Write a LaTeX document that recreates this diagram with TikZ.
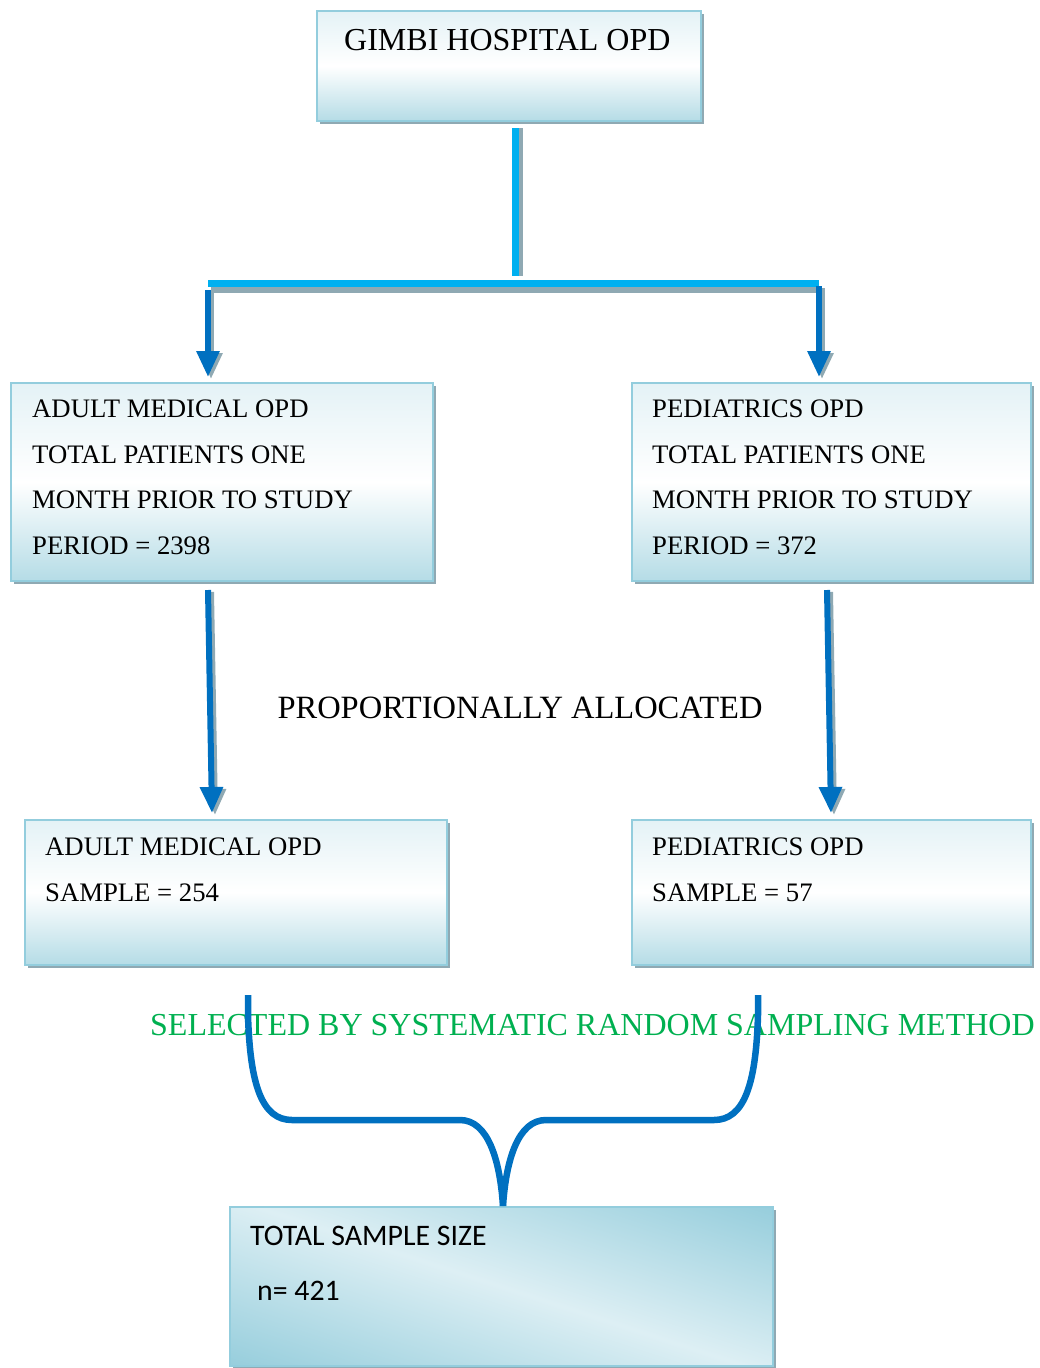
\documentclass[tikz,border=0pt]{standalone}
\usepackage{fontspec}
\setmainfont{Liberation Serif}
\newfontfamily\calib{Carlito}
\usetikzlibrary{arrows.meta,shadows}
\definecolor{bordc}{HTML}{93CDDD}
\definecolor{shadc}{HTML}{8FA9B3}
\definecolor{topc}{HTML}{E4F2F6}
\definecolor{botc}{HTML}{B5DCE6}
\definecolor{lblue}{HTML}{00B0F0}
\definecolor{dblue}{HTML}{0070C0}
\definecolor{grn}{HTML}{00B050}
\definecolor{darkc}{HTML}{93CCDB}
\definecolor{lightc}{HTML}{DDEFF4}
\pgfdeclareverticalshading{myband}{100bp}{color(0bp)=(darkc); color(36bp)=(darkc); color(50bp)=(lightc); color(64bp)=(darkc); color(100bp)=(darkc)}
\begin{document}
\begin{tikzpicture}[x=1pt,y=-1pt,
  box/.style={draw=bordc, line width=2pt, top color=topc, bottom color=botc, middle color=white,
    anchor=north west, inner sep=0pt,
    drop shadow={shadow xshift=3pt, shadow yshift=-3pt, fill=shadc, opacity=1}},
  boxtxt/.style={anchor=base west, inner sep=0pt, font=\fontsize{26.7}{30}\selectfont},
  bigtxt/.style={inner sep=0pt, font=\fontsize{32}{36}\selectfont},
  lconn/.style={draw=lblue, line width=7pt},
  lshad/.style={draw=shadc, line width=7pt},
  darr/.style={draw=dblue, line width=6pt, -{Triangle[width=22pt,length=26pt]}},
  dshad/.style={draw=shadc, line width=6pt, -{Triangle[width=22pt,length=26pt]}},
  brace/.style={draw=dblue, line width=6.5pt}
]
\useasboundingbox (0,0) rectangle (1040,1368);

% boxes
\node[box, minimum width=384pt, minimum height=110pt] (top) at (316,10) {};
\node[bigtxt, anchor=base west] (toptxt) at (344,50) {GIMBI HOSPITAL OPD};

\node[box, minimum width=422pt, minimum height=198pt] (adult) at (10,382) {};
\node[boxtxt] (a1) at (32,417) {ADULT MEDICAL OPD};
\node[boxtxt] (a2) at (32,463) {TOTAL PATIENTS ONE};
\node[boxtxt] (a3) at (32,508) {MONTH PRIOR TO STUDY};
\node[boxtxt] (a4) at (32,554) {PERIOD = 2398};

\node[box, minimum width=399pt, minimum height=198pt] (ped) at (631,382) {};
\node[boxtxt] (p1) at (652,417) {PEDIATRICS OPD};
\node[boxtxt] (p2) at (652,463) {TOTAL PATIENTS ONE};
\node[boxtxt] (p3) at (652,508) {MONTH PRIOR TO STUDY};
\node[boxtxt] (p4) at (652,554) {PERIOD = 372};

\node[box, minimum width=422pt, minimum height=145pt] (adults) at (24,819) {};
\node[boxtxt] (as1) at (45,855) {ADULT MEDICAL OPD};
\node[boxtxt] (as2) at (45,901) {SAMPLE = 254};

\node[box, minimum width=399pt, minimum height=145pt] (peds) at (631,819) {};
\node[boxtxt] (ps1) at (652,855) {PEDIATRICS OPD};
\node[boxtxt] (ps2) at (652,901) {SAMPLE = 57};

\node[draw=bordc, line width=2pt, anchor=north west, inner sep=0pt,
  minimum width=543pt, minimum height=159pt, fill=lightc,
  path picture={
      \shade[shading=myband, shading angle=-18]
        ([shift={(-300,-300)}]path picture bounding box.center) rectangle
        ([shift={(300,300)}]path picture bounding box.center);},
  drop shadow={shadow xshift=3pt, shadow yshift=-3pt, fill=shadc, opacity=1}] (tot) at (229,1206) {};
\node[anchor=base west, inner sep=0pt, font=\calib\fontsize{29.8}{34}\selectfont] (t1) at (250,1245) {TOTAL SAMPLE SIZE};
\node[anchor=base west, inner sep=0pt, font=\calib\fontsize{29.8}{34}\selectfont] (t2) at (257,1300) {n= 421};

% labels
\node[bigtxt, anchor=base, font=\fontsize{32.5}{36}\selectfont] (prop) at (520,718) {PROPORTIONALLY ALLOCATED};
\node[bigtxt, anchor=base west, text=grn] (sel) at (150,1035) {SELECTED BY SYSTEMATIC RANDOM SAMPLING METHOD};

% top connector
\coordinate (stubtop) at (515,128);
\coordinate (stubbot) at (515,276);
\coordinate (barL) at (208,283);
\coordinate (barR) at (819,283);
\draw[lshad] ([xshift=4pt]stubtop) -- ([xshift=4pt]stubbot);
\draw[lconn] (stubtop) -- (stubbot);
\draw[lshad] ([xshift=3pt,yshift=-6pt]barL) -- ([xshift=3pt,yshift=-6pt]barR);
\draw[lconn] (barL) -- (barR);

% arrows down to first row
\coordinate (al0) at (208,290);
\coordinate (al1) at (208,377);
\coordinate (ar0) at (819,286);
\coordinate (ar1) at (819,377);
\draw[dshad] ([xshift=3pt,yshift=-2pt]al0) -- ([xshift=3pt,yshift=-2pt]al1);
\draw[darr] (al0) -- (al1);
\draw[dshad] ([xshift=3pt,yshift=-2pt]ar0) -- ([xshift=3pt,yshift=-2pt]ar1);
\draw[darr] (ar0) -- (ar1);

% arrows to second row
\coordinate (bl0) at (208,590);
\coordinate (bl1) at (212,813);
\coordinate (br0) at (827,590);
\coordinate (br1) at (831,813);
\draw[dshad] ([xshift=3pt,yshift=-2pt]bl0) -- ([xshift=3pt,yshift=-2pt]bl1);
\draw[darr] (bl0) -- (bl1);
\draw[dshad] ([xshift=3pt,yshift=-2pt]br0) -- ([xshift=3pt,yshift=-2pt]br1);
\draw[darr] (br0) -- (br1);

% brace
\coordinate (cl) at (248,995);
\coordinate (cr) at (758,995);
\coordinate (cm) at (503,1206);
\draw[brace] (cl) -- (248,1015) .. controls (250,1085) and (262,1120) .. (292,1120) -- (460,1120)
  .. controls (488,1120) and (500,1160) .. (cm);
\draw[brace] (cr) -- (758,1015) .. controls (756,1085) and (744,1120) .. (714,1120) -- (546,1120)
  .. controls (518,1120) and (506,1160) .. (cm);
\end{tikzpicture}
\end{document}
